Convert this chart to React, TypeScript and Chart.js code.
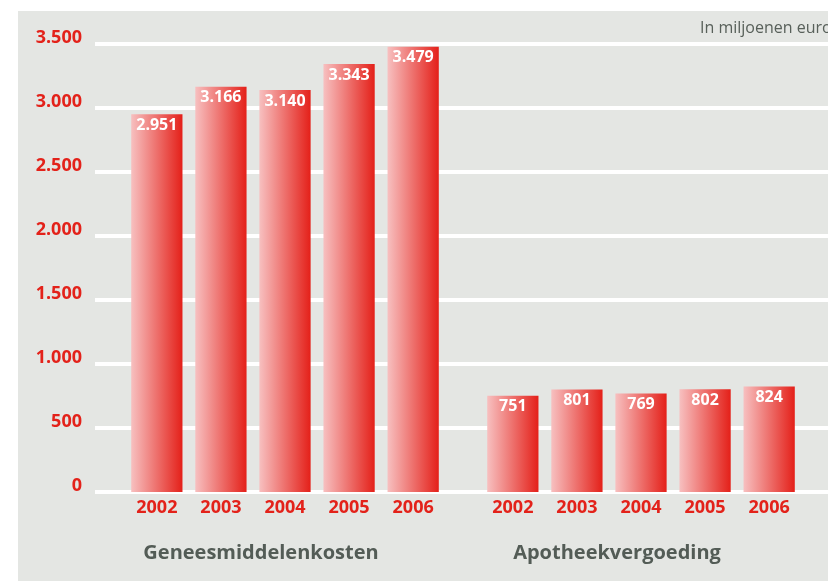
import React, { useEffect, useRef } from "react";
import { Chart, registerables } from "chart.js";

Chart.register(...registerables);

const groups = ["Geneesmiddelenkosten", "Apotheekvergoeding"];
const years = ["2002", "2003", "2004", "2005", "2006"];
const geneesmiddelenkosten = [2951, 3166, 3140, 3343, 3479];
const apotheekvergoeding = [751, 801, 769, 802, 824];
const yTicks = [0, 500, 1000, 1500, 2000, 2500, 3000, 3500];
const unitNote = "In miljoenen euro";

const RED = "#e3221a";
const PANEL = "#e4e6e3";
const FONT = "'Open Sans', 'Noto Sans', sans-serif";

const fmt = (v: number) => {
  const s = String(Math.round(v));
  return s.replace(/\B(?=(\d{3})+(?!\d))/g, ".");
};

const decorPlugin = {
  id: "decor",
  beforeDraw(chart: any) {
    const { ctx, width, height } = chart;
    ctx.save();
    ctx.fillStyle = "#ffffff";
    ctx.fillRect(0, 0, width, height);
    ctx.fillStyle = PANEL;
    ctx.fillRect(18, 11, width - 18, height - 11);
    ctx.fillStyle = "#58605a";
    ctx.font = `400 16px ${FONT}`;
    ctx.textAlign = "left";
    ctx.textBaseline = "middle";
    ctx.fillText(unitNote, 700, 28);
    ctx.restore();
  },
  beforeDatasetsDraw(chart: any) {
    const { ctx, width } = chart;
    const y = chart.scales.y;
    ctx.save();
    ctx.strokeStyle = "#ffffff";
    ctx.lineWidth = 4;
    yTicks.forEach((t) => {
      const py = Math.round(y.getPixelForValue(t));
      ctx.beginPath();
      ctx.moveTo(95, py);
      ctx.lineTo(width, py);
      ctx.stroke();
    });
    ctx.restore();
    chart.data.datasets.forEach((_: any, di: number) => {
      const meta = chart.getDatasetMeta(di);
      meta.data.forEach((bar: any) => {
        const w = bar.width;
        const g = ctx.createLinearGradient(bar.x - w / 2, 0, bar.x + w / 2, 0);
        g.addColorStop(0, "#f7c0c0");
        g.addColorStop(1, "#e42019");
        bar.options = { ...bar.options, backgroundColor: g };
      });
    });
  },
  afterDatasetsDraw(chart: any) {
    const { ctx } = chart;
    ctx.save();
    ctx.textAlign = "center";
    ctx.textBaseline = "middle";
    chart.data.datasets.forEach((ds: any, di: number) => {
      const meta = chart.getDatasetMeta(di);
      meta.data.forEach((bar: any, i: number) => {
        ctx.fillStyle = "#ffffff";
        ctx.font = `700 16px ${FONT}`;
        ctx.fillText(fmt(ds.data[i]), bar.x, bar.y + 11);
        ctx.fillStyle = RED;
        ctx.font = `700 18px ${FONT}`;
        ctx.fillText(ds.label, bar.x, 508);
      });
    });
    ctx.restore();
  },
};

export default function App() {
  const ref = useRef<HTMLCanvasElement | null>(null);
  useEffect(() => {
    if (!ref.current) return;
    const datasets = years.map((yr, i) => ({
      label: yr,
      data: [geneesmiddelenkosten[i], apotheekvergoeding[i]],
      backgroundColor: RED,
      borderWidth: 0,
      categoryPercentage: 0.9,
      barPercentage: 0.8,
    }));
    const chart = new Chart(ref.current, {
      type: "bar",
      data: { labels: groups, datasets },
      plugins: [decorPlugin],
      options: {
        responsive: false,
        animation: false,
        layout: { padding: { top: 44, right: 9, left: 0, bottom: 0 } },
        plugins: { legend: { display: false }, tooltip: { enabled: false } },
        scales: {
          x: {
            grid: { display: false, drawTicks: false },
            border: { display: false },
            ticks: {
              color: "#535c56",
              font: { family: FONT, size: 20, weight: "bold" },
              padding: 49,
              labelOffset: -24,
            },
            afterFit(scale: any) {
              scale.height = 89;
            },
          },
          y: {
            min: 0,
            max: 3500,
            grid: { display: false, drawTicks: false },
            border: { display: false },
            ticks: {
              stepSize: 500,
              color: RED,
              font: { family: FONT, size: 18, weight: "bold" },
              padding: 25,
              labelOffset: -6,
              callback: (v: any) => fmt(Number(v)),
            },
            afterFit(scale: any) {
              scale.width = 107;
            },
          },
        },
      },
    });
    return () => chart.destroy();
  }, []);
  return (
    <div style={{ position: "fixed", left: 0, top: 0, width: 828, height: 581, background: "#fff" }}>
      <canvas ref={ref} width={828} height={581} style={{ display: "block" }} />
    </div>
  );
}
